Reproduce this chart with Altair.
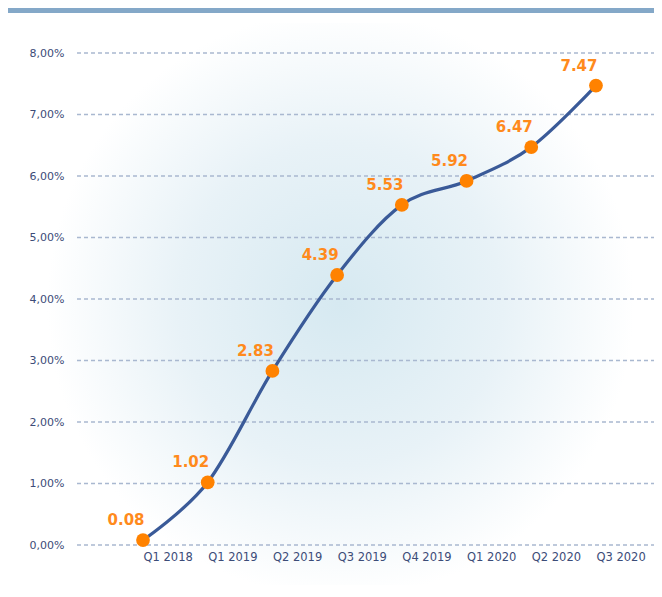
import altair as alt
import pandas as pd

quarters = ["Q1 2018", "Q1 2019", "Q2 2019", "Q3 2019", "Q4 2019", "Q1 2020", "Q2 2020", "Q3 2020"]
values = [0.08, 1.02, 2.83, 4.39, 5.53, 5.92, 6.47, 7.47]
y_ticks = [0, 1, 2, 3, 4, 5, 6, 7, 8]

df = pd.DataFrame({"idx": list(range(len(quarters))), "q": quarters, "v": values})
df["lab"] = [f"{v:.2f}" for v in values]
grid_df = pd.DataFrame({"t": y_ticks})

W, H = 577, 492
label_arr = "[" + ",".join("'" + q + "'" for q in quarters) + "]"

xs = alt.Scale(domain=[-1.02, 7.897], nice=False, zero=False)
ys = alt.Scale(domain=[0, 8], nice=False)

base = alt.Chart(df)

bg = alt.Chart(pd.DataFrame({"a": [0]})).mark_rect(
    color=alt.RadialGradient(
        gradient="radial",
        stops=[alt.GradientStop(offset=0, color="#d6e9f1"),
               alt.GradientStop(offset=0.55, color="#e8f2f7"),
               alt.GradientStop(offset=1, color="#ffffff")],
        x1=0.5, y1=0.5, r1=0, x2=0.5, y2=0.5, r2=0.5,
    )
).encode(x=alt.value(-30), x2=alt.value(W - 20), y=alt.value(-30), y2=alt.value(H + 40))

topbar = alt.Chart(pd.DataFrame({"a": [0]})).mark_rect(color="#84a8c8").encode(
    x=alt.value(-69), x2=alt.value(W), y=alt.value(-45), y2=alt.value(-40)
)

grid = alt.Chart(grid_df).mark_rule(color="#a9b8d0", strokeDash=[4, 3], strokeWidth=1.5).encode(
    y=alt.Y("t:Q", scale=ys,
            axis=alt.Axis(values=y_ticks,
                          labelExpr="replace(format(datum.value, '.2f'), '.', ',') + '%'",
                          labelFont="DejaVu Sans", labelFontSize=11, labelColor="#3c4c78",
                          domain=False, ticks=False, labelPadding=13, title=None,
                          grid=False, zindex=1)),
    x=alt.value(0), x2=alt.value(W),
)

line = base.mark_line(color="#3a5a98", strokeWidth=3.2, interpolate="cardinal").encode(
    x=alt.X("idx:Q", scale=xs,
            axis=alt.Axis(values=list(range(len(quarters))), labelExpr=label_arr + "[datum.value]",
                          labelAlign="left", labelFont="DejaVu Sans", labelFontSize=11.5,
                          labelColor="#3c4c78", domain=False, ticks=False, grid=False,
                          labelPadding=6, title=None, zindex=1)),
    y=alt.Y("v:Q", scale=ys),
)

pts = base.mark_circle(color="#ff8200", opacity=1, size=190).encode(
    x=alt.X("idx:Q", scale=xs), y=alt.Y("v:Q", scale=ys)
)

txt = base.mark_text(color="#ff8a1c", fontWeight="bold", fontSize=15, font="DejaVu Sans",
                     dx=-17, dy=-20).encode(
    x=alt.X("idx:Q", scale=xs), y=alt.Y("v:Q", scale=ys), text="lab:N"
)

chart = alt.layer(bg, topbar, grid, line, pts, txt).properties(
    width=W, height=H,
    autosize=alt.AutoSizeParams(type="none"),
    padding={"left": 69, "top": 45, "right": 0, "bottom": 44},
    background="#ffffff",
).configure_view(stroke=None)

chart.save("out.html", embed_options={"renderer": "svg", "actions": False})
